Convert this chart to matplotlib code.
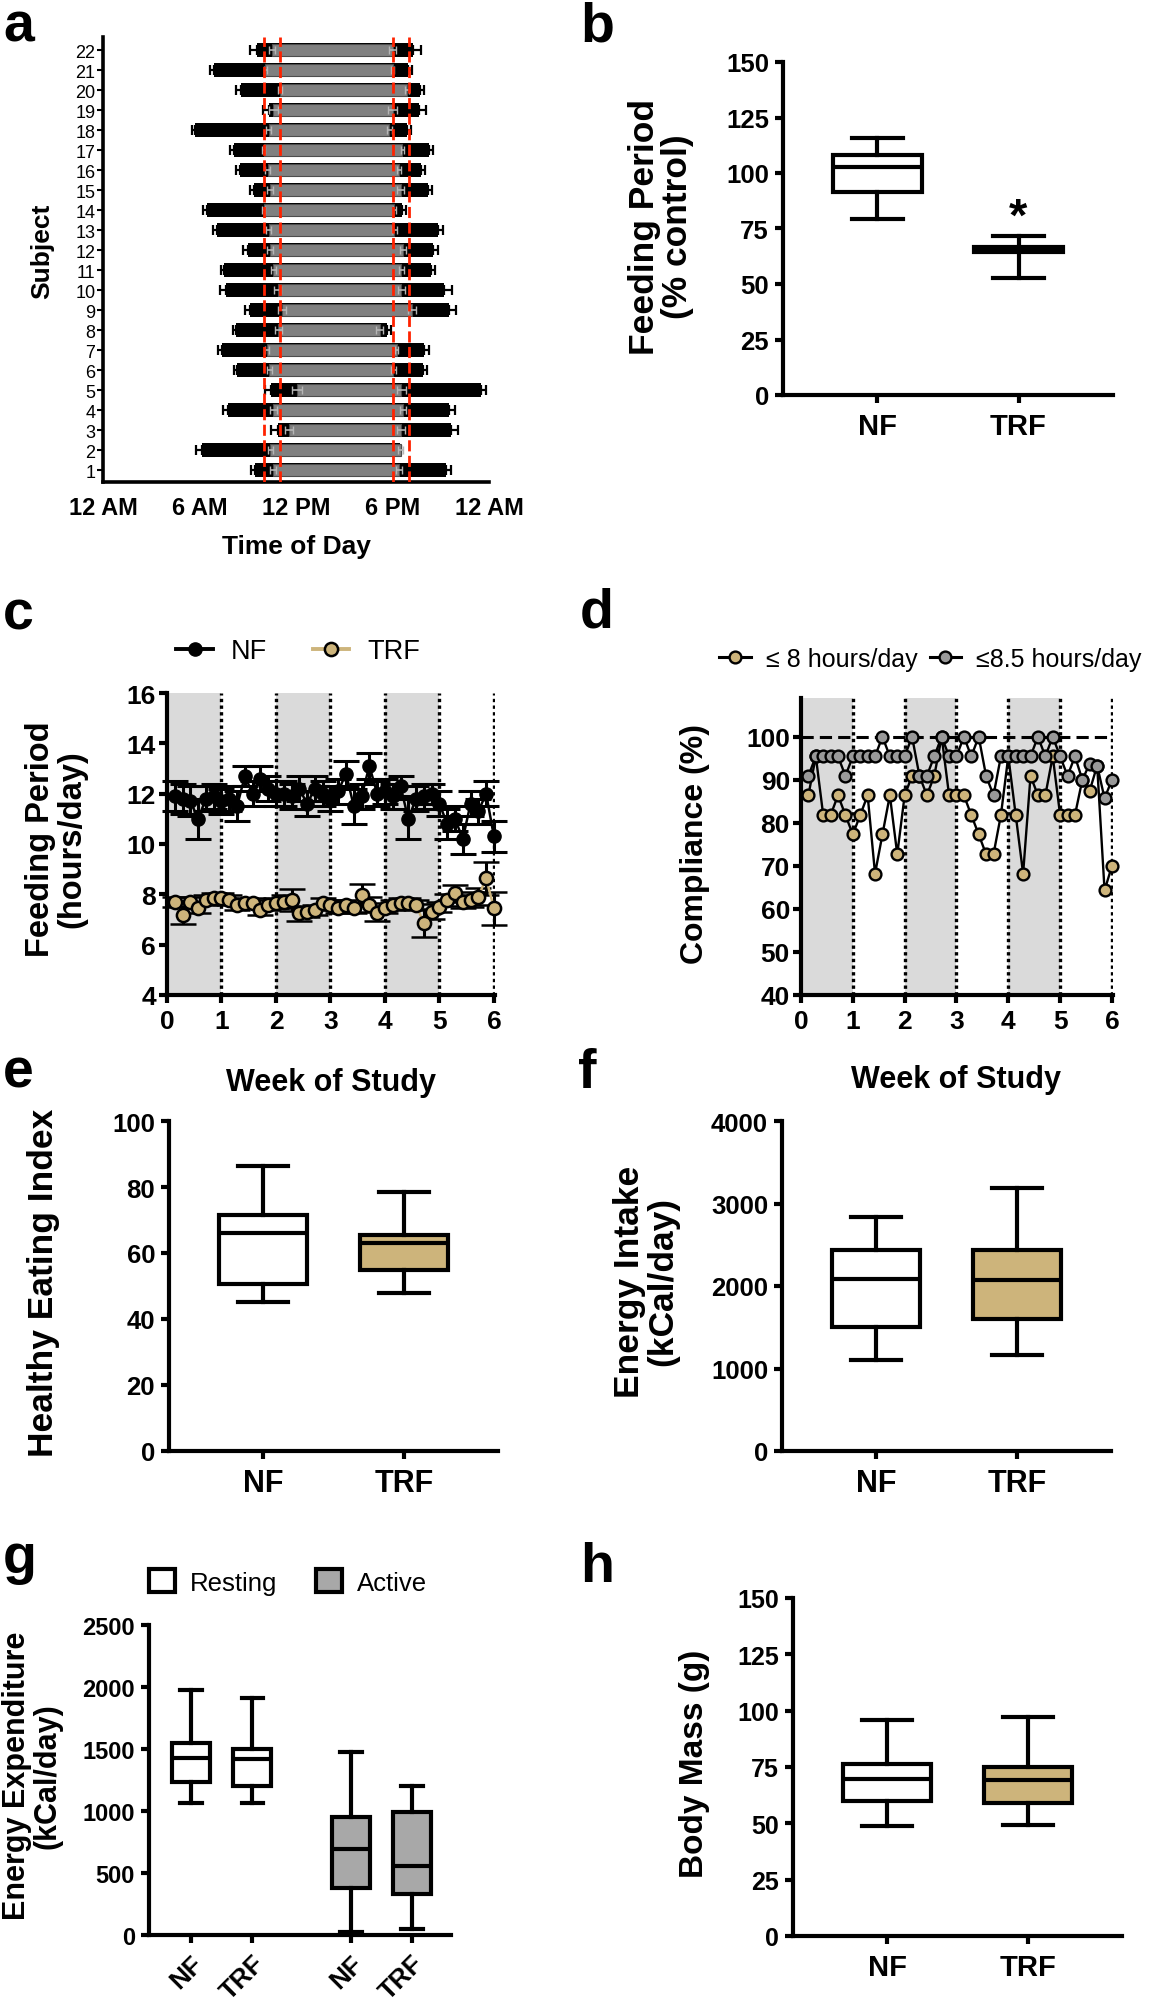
import numpy as np
import matplotlib
matplotlib.use("Agg")
import matplotlib.pyplot as plt
from matplotlib.lines import Line2D
from matplotlib.patches import Patch

plt.rcParams['font.family'] = ['Liberation Sans', 'DejaVu Sans']

TAN = '#CDB47B'
BAR_GREY = '#808080'
ACTIVE_GREY = '#A8A8A8'
SHADE = '#DADADA'

# ---- a: daily eating window per subject (hours after midnight)
subjects = list(range(1, 23))
first_meal = [9.46, 6.18, 10.86, 7.76, 10.46, 8.35, 7.42, 8.30, 9.13, 7.65, 7.53,
              9.00, 7.10, 6.47, 9.40, 8.50, 8.13, 5.70, 10.30, 8.58, 6.90, 9.57]
first_err = [0.27, 0.42, 0.40, 0.29, 0.40, 0.22, 0.25, 0.24, 0.33, 0.40, 0.18,
             0.27, 0.29, 0.27, 0.29, 0.20, 0.22, 0.18, 0.38, 0.29, 0.22, 0.44]
last_meal = [21.30, 18.45, 21.65, 21.50, 23.50, 19.90, 19.95, 17.66, 21.50, 21.20, 20.40,
             20.50, 20.80, 18.60, 20.20, 19.80, 20.30, 18.90, 19.65, 19.70, 18.95, 19.30]
last_err = [0.33, 0.10, 0.45, 0.40, 0.31, 0.24, 0.33, 0.22, 0.44, 0.50, 0.24,
            0.33, 0.33, 0.24, 0.27, 0.24, 0.22, 0.27, 0.44, 0.27, 0.27, 0.49]
core_start = [10.57, 10.40, 11.57, 10.60, 12.05, 10.35, 10.20, 10.90, 11.10, 10.86, 10.60,
              10.40, 10.30, 10.00, 10.40, 10.25, 10.00, 10.30, 10.60, 11.00, 10.10, 10.50]
core_end = [18.40, 18.50, 18.55, 18.65, 18.55, 18.06, 18.26, 17.20, 19.20, 18.55, 18.55,
            18.65, 18.10, 18.10, 18.50, 18.40, 18.60, 17.80, 18.00, 18.90, 18.00, 18.00]
core_err = [0.20, 0.15, 0.25, 0.20, 0.30, 0.15, 0.10, 0.20, 0.25, 0.20, 0.15,
            0.20, 0.15, 0.10, 0.20, 0.15, 0.10, 0.15, 0.30, 0.15, 0.10, 0.20]
window_lines = [10, 11, 18, 19]
hour_ticks = [0, 6, 12, 18, 24]
hour_labels = ['12 AM', '6 AM', '12 PM', '6 PM', '12 AM']

# ---- box plot summaries: (min, q1, median, q3, max)
groups = ['NF', 'TRF']
feed_pct = {'NF': (79.3, 91.6, 102.6, 108.2, 115.7), 'TRF': (52.5, 64.2, 65.5, 66.6, 71.5)}
hei = {'NF': (45.1, 50.6, 66.0, 71.5, 86.4), 'TRF': (47.9, 54.9, 63.0, 65.4, 78.5)}
intake = {'NF': (1097, 1500, 2085, 2435, 2831), 'TRF': (1165, 1601, 2077, 2435, 3185)}
expend_rest = {'NF': (1068, 1230, 1424, 1545, 1978), 'TRF': (1068, 1198, 1418, 1504, 1908)}
expend_active = {'NF': (24, 377, 692, 955, 1472), 'TRF': (46, 328, 557, 988, 1203)}
body_mass = {'NF': (48.6, 59.7, 69.6, 76.3, 96.0), 'TRF': (49.2, 59.2, 69.3, 74.8, 97.0)}

# ---- c/d: daily values over 6 weeks
study_day = np.arange(1, 43)
nf_hours = [11.9, 11.8, 11.7, 11.0, 11.8, 11.9, 11.7, 11.8, 11.5, 12.7, 12.0, 12.6, 12.2, 12.0,
            12.0, 11.9, 12.2, 11.6, 12.2, 12.0, 11.8, 12.1, 12.8, 11.5, 11.9, 13.1, 12.0, 12.1,
            11.9, 12.3, 11.0, 11.8, 11.9, 12.0, 11.6, 10.8, 11.0, 10.2, 11.6, 11.3, 12.0, 10.3]
nf_err = [0.6, 0.6, 0.6, 0.8, 0.5, 0.5, 0.5, 0.5, 0.6, 0.4, 0.5, 0.5, 0.5, 0.5,
          0.5, 0.5, 0.5, 0.5, 0.5, 0.5, 0.5, 0.5, 0.5, 0.7, 0.5, 0.5, 0.5, 0.5,
          0.5, 0.4, 0.8, 0.5, 0.5, 0.4, 0.5, 0.6, 0.5, 0.6, 0.5, 0.5, 0.5, 0.6]
trf_hours = [7.71, 7.18, 7.71, 7.45, 7.78, 7.84, 7.84, 7.78, 7.58, 7.64, 7.64, 7.38, 7.58, 7.64,
             7.71, 7.78, 7.25, 7.31, 7.38, 7.64, 7.58, 7.45, 7.58, 7.45, 7.98, 7.58, 7.25, 7.45,
             7.58, 7.64, 7.64, 7.58, 6.85, 7.31, 7.51, 7.78, 8.04, 7.71, 7.78, 7.91, 8.64, 7.45]
trf_err = [0.2, 0.35, 0.2, 0.2, 0.2, 0.2, 0.2, 0.2, 0.2, 0.2, 0.2, 0.2, 0.2, 0.2,
           0.25, 0.45, 0.3, 0.2, 0.2, 0.2, 0.2, 0.2, 0.2, 0.2, 0.45, 0.3, 0.3, 0.2,
           0.2, 0.2, 0.2, 0.2, 0.55, 0.3, 0.2, 0.25, 0.35, 0.25, 0.3, 0.35, 0.65, 0.65]
comp_8 = [86.4, 95.45, 81.8, 81.8, 86.4, 81.8, 77.3, 81.8, 86.4, 68.2, 77.3, 86.4, 72.7, 86.4,
          90.9, 90.9, 86.4, 90.9, 100, 86.4, 86.4, 86.4, 81.8, 77.3, 72.7, 72.7, 81.8, 95.45,
          81.8, 68.2, 90.9, 86.4, 86.4, 95.45, 81.8, 81.8, 81.8, 90.0, 87.5, 93.3, 64.3, 70.0]
comp_85 = [90.9, 95.45, 95.45, 95.45, 95.45, 90.9, 95.45, 95.45, 95.45, 95.45, 100, 95.45, 95.45, 95.45,
           100, 90.9, 90.9, 95.45, 100, 95.45, 95.45, 100, 95.45, 100, 90.9, 86.4, 95.45, 95.45,
           95.45, 95.45, 95.45, 100, 95.45, 100, 95.45, 90.9, 95.45, 90.0, 93.75, 93.3, 85.7, 90.0]
shaded_weeks = [0, 2, 4]
week_ticks = [0, 1, 2, 3, 4, 5, 6]

W, H = 1166, 1999
fig = plt.figure(figsize=(W / 100, H / 100), dpi=100)


def make_axes(left, right, top, bottom):
    return fig.add_axes([left / W, 1 - bottom / H, (right - left) / W, (bottom - top) / H])


def style(ax, lw=3.0):
    for s in ['top', 'right']:
        ax.spines[s].set_visible(False)
    for s in ['left', 'bottom']:
        ax.spines[s].set_linewidth(lw)
    ax.tick_params(width=lw, length=6, direction='out', pad=4)


def ylabel_at(ax, text, px, py, size):
    ax.set_ylabel(text, fontsize=size, fontweight='bold', va='center', ha='center',
                  linespacing=1.0)
    ax.yaxis.set_label_coords(px / W, 1 - py / H, transform=fig.transFigure)


def xlabel_at(ax, text, px, py, size):
    ax.set_xlabel(text, fontsize=size, fontweight='bold', va='center')
    ax.xaxis.set_label_coords(px / W, 1 - py / H, transform=fig.transFigure)


def panel_letter(px, py, letter):
    fig.text(px / W, 1 - py / H, letter, fontsize=40, fontweight='bold', va='baseline', ha='left')


def boxes(ax, data, positions, colors, width=0.63, lw=3.0):
    stats = []
    for g in groups:
        lo, q1, med, q3, hi = data[g]
        stats.append(dict(whislo=lo, q1=q1, med=med, q3=q3, whishi=hi, label=g))
    bp = ax.bxp(stats, positions=positions, widths=width, patch_artist=True, showfliers=False,
                capwidths=width * 0.57,
                boxprops=dict(linewidth=lw, edgecolor='black'),
                medianprops=dict(color='black', linewidth=lw),
                whiskerprops=dict(color='black', linewidth=lw),
                capprops=dict(color='black', linewidth=lw), manage_ticks=False)
    for patch, c in zip(bp['boxes'], colors):
        patch.set_facecolor(c)
    return bp


def box_panel(ax, data, ylim, yticks, tick_size, cat_size):
    style(ax)
    boxes(ax, data, [1, 2], ['white', TAN])
    ax.set_xlim(0.33, 2.67)
    ax.set_ylim(*ylim)
    ax.set_yticks(yticks, [str(t) for t in yticks], fontsize=tick_size, fontweight='bold')
    ax.set_xticks([1, 2], groups, fontsize=cat_size, fontweight='bold')
    ax.tick_params(axis='x', pad=6)


# ---------------- a
ax = make_axes(103, 489, 38, 483)
style(ax, lw=2.6)
ax.errorbar(first_meal, subjects, xerr=[first_err, np.zeros(22)], fmt='none', ecolor='black',
            elinewidth=1.6, capsize=3.5, capthick=1.6, zorder=1)
ax.errorbar(last_meal, subjects, xerr=[np.zeros(22), last_err], fmt='none', ecolor='black',
            elinewidth=1.6, capsize=3.5, capthick=1.6, zorder=1)
ax.barh(subjects, np.subtract(last_meal, first_meal), left=first_meal, height=0.68,
        color='black', zorder=2)
ax.barh(subjects, np.subtract(core_end, core_start), left=core_start, height=0.62,
        color=BAR_GREY, edgecolor='#4d4d4d', linewidth=0.8, zorder=3)
ax.errorbar(core_start, subjects, xerr=core_err, fmt='none', ecolor='#b5b5b5',
            elinewidth=1.2, capsize=3, zorder=4)
ax.errorbar(core_end, subjects, xerr=core_err, fmt='none', ecolor='#b5b5b5',
            elinewidth=1.2, capsize=3, zorder=4)
for h in window_lines:
    ax.axvline(h, color='#ff2200', ls=(0, (4, 1.6)), lw=2, zorder=5)
ax.set_xlim(0, 24)
ax.set_ylim(0.4, 22.65)
ax.set_xticks(hour_ticks, hour_labels, fontsize=17, fontweight='bold')
ax.set_yticks(subjects, [str(s) for s in subjects], fontsize=13)
ax.tick_params(axis='x', length=0, pad=10)
ax.tick_params(axis='y', length=4, width=1.5, pad=1.5)
ylabel_at(ax, 'Subject', 42, 251, 19)
xlabel_at(ax, 'Time of Day', 296, 547, 19)

# ---------------- b
ax = make_axes(783, 1113, 63, 396)
box_panel(ax, feed_pct, (0, 150), [0, 25, 50, 75, 100, 125, 150], 18.5, 21)
ax.text(2, 74.5, '*', fontsize=34, fontweight='bold', ha='center', va='baseline')
ylabel_at(ax, 'Feeding Period\n(% control)', 661, 227, 25.5)

# ---------------- c
weeks = study_day / 7
ax = make_axes(167, 495, 694, 996)
style(ax)
for w0 in shaded_weeks:
    ax.axvspan(w0, w0 + 1, color=SHADE, lw=0, zorder=0)
for wk in week_ticks[1:]:
    ax.axvline(wk, color='black', ls=(0, (1, 1)), lw=2.4, zorder=1)
ax.errorbar(weeks, nf_hours, yerr=nf_err, fmt='-o', color='black', mfc='black', mec='black',
            ms=9.5, lw=1.8, elinewidth=2.2, capsize=9.5, capthick=2.2, zorder=3, clip_on=False)
ax.errorbar(weeks, trf_hours, yerr=trf_err, fmt='-o', color=TAN, ecolor='black', mfc=TAN,
            mec='black', mew=1.8, ms=9.5, lw=1.8, elinewidth=2.2, capsize=9.5, capthick=2.2,
            zorder=4, clip_on=False)
ax.set_xlim(0, 6.02)
ax.set_ylim(4, 16)
ax.set_xticks(week_ticks, [str(t) for t in week_ticks], fontsize=19, fontweight='bold')
ax.set_yticks([4, 6, 8, 10, 12, 14, 16], ['4', '6', '8', '10', '12', '14', '16'],
              fontsize=19, fontweight='bold')
ax.tick_params(axis='y', pad=2)
handles = [Line2D([], [], color='black', marker='o', ms=9.5, mfc='black', mec='black', lw=2.8),
           Line2D([], [], color=TAN, marker='o', ms=9.5, mfc=TAN, mec='black', mew=1.8, lw=2.8)]
ax.legend(handles, groups, loc='center', bbox_to_anchor=(0.40, 1.139), ncol=2, frameon=False,
          fontsize=19.5, handlelength=1.35, columnspacing=1.7, handletextpad=0.65)
ylabel_at(ax, 'Feeding Period\n(hours/day)', 56, 839, 23.5)
xlabel_at(ax, 'Week of Study', 331, 1083, 22)

# ---------------- d
ax = make_axes(801, 1113, 699, 996)
style(ax)
for w0 in shaded_weeks:
    ax.axvspan(w0, w0 + 1, color=SHADE, lw=0, zorder=0)
for wk in week_ticks[1:]:
    ax.axvline(wk, color='black', ls=(0, (1, 1)), lw=2.4, zorder=1)
ax.axhline(100, color='black', ls=(0, (4, 2)), lw=2.2, zorder=2)
ax.plot(weeks, comp_8, '-o', color='black', mfc=TAN, mec='black', ms=8.5, mew=1.7, lw=1.7,
        zorder=3, clip_on=False)
ax.plot(weeks, comp_85, '-o', color='black', mfc='#999999', mec='black', ms=8.5, mew=1.7, lw=1.7,
        zorder=4, clip_on=False)
ax.set_xlim(0, 6.02)
ax.set_ylim(40, 109)
ax.set_xticks(week_ticks, [str(t) for t in week_ticks], fontsize=19, fontweight='bold')
yt = [40, 50, 60, 70, 80, 90, 100]
ax.set_yticks(yt, [str(t) for t in yt], fontsize=19, fontweight='bold')
ax.tick_params(axis='y', pad=2)
handles = [Line2D([], [], color='black', marker='o', ms=8.5, mfc=TAN, mec='black', mew=1.7, lw=2.2),
           Line2D([], [], color='black', marker='o', ms=8.5, mfc='#999999', mec='black', mew=1.7, lw=2.2)]
ax.legend(handles, ['\u2264 8 hours/day', '\u22648.5 hours/day'], loc='center',
          bbox_to_anchor=(0.415, 1.131), ncol=2, frameon=False, fontsize=18,
          handlelength=1.25, columnspacing=0.5, handletextpad=0.6, borderpad=0.1)
ylabel_at(ax, 'Compliance (%)', 695, 844, 23)
xlabel_at(ax, 'Week of Study', 956, 1080, 22)

# ---------------- e
ax = make_axes(169, 498, 1122, 1452)
box_panel(ax, hei, (0, 100), [0, 20, 40, 60, 80, 100], 18.5, 22)
ylabel_at(ax, 'Healthy Eating Index', 44, 1283, 25.5)

# ---------------- f
ax = make_axes(782, 1111, 1122, 1452)
box_panel(ax, intake, (0, 4000), [0, 1000, 2000, 3000, 4000], 18.5, 22)
ylabel_at(ax, 'Energy Intake\n(kCal/day)', 646, 1282, 25.5)

# ---------------- g
ax = make_axes(149, 451, 1626, 1936)
style(ax)
boxes(ax, expend_rest, [1, 2], ['white', 'white'], width=0.61)
boxes(ax, expend_active, [3.62, 4.62], [ACTIVE_GREY, ACTIVE_GREY], width=0.61)
ax.set_xlim(0.31, 5.26)
ax.set_ylim(0, 2500)
yt = [0, 500, 1000, 1500, 2000, 2500]
ax.set_yticks(yt, [str(t) for t in yt], fontsize=17, fontweight='bold')
ax.set_xticks([1, 2, 3.62, 4.62], groups + groups, fontsize=19, fontweight='bold',
              rotation=45, ha='right', rotation_mode='anchor')
ax.tick_params(axis='x', pad=5)
handles = [Patch(facecolor='white', edgecolor='black', lw=3),
           Patch(facecolor=ACTIVE_GREY, edgecolor='black', lw=3)]
fig.legend(handles, ['Resting', 'Active'], loc='center', bbox_to_anchor=(288 / W, 1 - 1583 / H),
           ncol=2, frameon=False, fontsize=18.5, handlelength=1.0, handleheight=1.0,
           columnspacing=1.5, handletextpad=0.6)
ylabel_at(ax, 'Energy Expenditure\n(kCal/day)', 32, 1776, 22)

# ---------------- h
ax = make_axes(793, 1122, 1599, 1937)
box_panel(ax, body_mass, (0, 150), [0, 25, 50, 75, 100, 125, 150], 18, 21)
ylabel_at(ax, 'Body Mass (g)', 694, 1764, 24)

for x, y, letter in [(3, 42, 'a'), (580, 42, 'b'), (3, 630, 'c'), (580, 628, 'd'),
                     (3, 1088, 'e'), (578, 1088, 'f'), (3, 1573, 'g'), (580, 1582, 'h')]:
    panel_letter(x, y, letter)

fig.savefig('out.png', dpi=100, facecolor='white')
